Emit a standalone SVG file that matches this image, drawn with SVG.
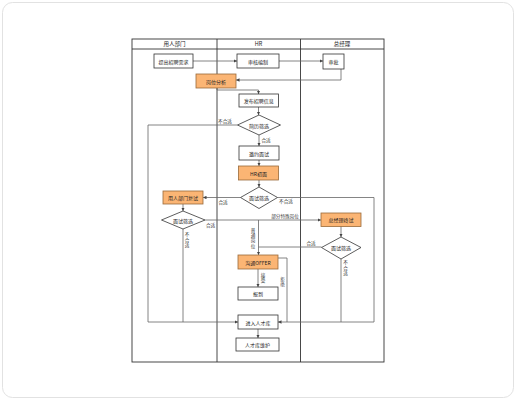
<svg xmlns="http://www.w3.org/2000/svg" width="516" height="400" viewBox="0 0 516 400">
<defs>
<marker id="ah" viewBox="0 0 6 6" refX="6" refY="3" markerWidth="3.5" markerHeight="3.5" orient="auto" markerUnits="userSpaceOnUse">
<path d="M0,0 L6,3 L0,6 Z" fill="#444"/>
</marker>
<style>
text{font-family:"Noto Sans CJK SC","Liberation Sans",sans-serif;fill:#222;}
.t{font-size:5px;text-anchor:middle;dominant-baseline:central;}
.h{font-size:5.5px;text-anchor:middle;dominant-baseline:central;}
.l{font-size:4.6px;text-anchor:middle;dominant-baseline:central;fill:#333;}
.box{fill:#fff;stroke:#333;stroke-width:0.8;}
.or{fill:#FBB574;stroke:#9a6a3a;stroke-width:0.8;}
.dia{fill:#fff;stroke:#333;stroke-width:0.8;}
.c{fill:none;stroke:#666;stroke-width:0.8;}
.ca{fill:none;stroke:#666;stroke-width:0.8;marker-end:url(#ah);}
.lane{fill:none;stroke:#333;stroke-width:0.9;}
</style>
</defs>
<rect x="0" y="0" width="516" height="400" fill="#fff"/>
<rect x="2.5" y="2.5" width="511" height="395" rx="10" fill="#fff" stroke="#e2e2e2" stroke-width="1"/>

<g id="lanes">
<rect class="lane" x="132" y="39" width="252" height="323"/>
<line class="lane" x1="132" y1="49" x2="384" y2="49"/>
<line class="lane" x1="217" y1="39" x2="217" y2="362"/>
<line class="lane" x1="300.5" y1="39" x2="300.5" y2="362"/>
<text class="h" x="174.5" y="44">用人部门</text>
<text class="h" x="258.5" y="44">HR</text>
<text class="h" x="342" y="44">总经理</text>
</g>

<g id="connectors">
<path class="ca" d="M193,61 H237"/>
<path class="ca" d="M279,61 H323"/>
<path class="ca" d="M341,69 V80 H236"/>
<path class="ca" d="M217,88 V90 H258.5 V94"/>
<path class="ca" d="M258.5,107 V115"/>
<path class="ca" d="M237.5,125 H148 V322 H238"/>
<path class="ca" d="M259,135 V146"/>
<path class="ca" d="M259,160 V166"/>
<path class="ca" d="M259,180 V187"/>
<path class="ca" d="M240.5,197.5 H203"/>
<path class="ca" d="M277.5,197.5 H374 V322 H278"/>
<path class="ca" d="M183,204 V211"/>
<path class="ca" d="M205,220 H321"/>
<path class="ca" d="M258.5,220 V255"/>
<path class="c" d="M183,229 V322"/>
<path class="ca" d="M341,226 V237"/>
<path class="c" d="M321.5,247 H258.5"/>
<path class="c" d="M341,259 V322"/>
<path class="ca" d="M258,269 V287"/>
<path class="c" d="M278,258 H287 V322"/>
<path class="ca" d="M258,329 V338"/>
<text class="l" x="225" y="120.5">不合适</text>
<text class="l" x="266" y="139.5">合适</text>
<text class="l" x="223" y="201.5">合适</text>
<text class="l" x="286" y="201">不合适</text>
<text class="l" x="210.5" y="224.5">合适</text>
<text class="l" x="285" y="215.5">部分特殊岗位</text>
<text class="l" x="311" y="242.5">合适</text>
<text class="l"><tspan x="253" y="230">普</tspan><tspan x="253" y="235.2">通</tspan><tspan x="253" y="240.4">岗</tspan><tspan x="253" y="245.6">位</tspan></text>
<text class="l"><tspan x="187" y="234">不</tspan><tspan x="187" y="239.5">合</tspan><tspan x="187" y="245">适</tspan></text>
<text class="l"><tspan x="345.5" y="262">不</tspan><tspan x="345.5" y="267.5">合</tspan><tspan x="345.5" y="273">适</tspan></text>
<text class="l"><tspan x="263" y="275">接</tspan><tspan x="263" y="280.2">受</tspan></text>
<text class="l"><tspan x="282.5" y="279">拒</tspan><tspan x="282.5" y="284.2">绝</tspan></text>
</g>

<g id="n1"><rect class="box" x="154" y="54" width="39" height="14"/><text class="t" x="173.5" y="61">提出招聘需求</text></g>
<g id="n2"><rect class="box" x="237" y="54" width="42" height="14"/><text class="t" x="258" y="61">审核编制</text></g>
<g id="n3"><rect class="box" x="323" y="54" width="21" height="15"/><text class="t" x="333.5" y="61.5">审批</text></g>
<g id="n4"><rect class="or" x="196" y="74" width="40" height="14"/><text class="t" x="216" y="81">岗位分析</text></g>
<g id="n5"><rect class="box" x="239" y="94" width="39.5" height="13"/><text class="t" x="258.75" y="100.5">发布招聘信息</text></g>
<g id="n6"><path class="dia" d="M259,115 L280.5,125 L259,135 L237.5,125 Z"/><text class="t" x="259" y="125">简历筛选</text></g>
<g id="n7"><rect class="box" x="239" y="146" width="40" height="14"/><text class="t" x="259" y="153">邀约面试</text></g>
<g id="n8"><rect class="or" x="238.5" y="166" width="40" height="14"/><text class="t" x="258.5" y="173">HR初面</text></g>
<g id="n9"><path class="dia" d="M259,187 L277.5,197.5 L259,208.5 L240.5,197.5 Z"/><text class="t" x="259" y="197.8">面试筛选</text></g>
<g id="n10"><rect class="or" x="163" y="191" width="40" height="13"/><text class="t" x="183" y="197.5">用人部门复试</text></g>
<g id="n11"><path class="dia" d="M183,211 L205,220 L183,229 L161.5,220 Z"/><text class="t" x="183" y="220">面试筛选</text></g>
<g id="n12"><rect class="or" x="321" y="213" width="40" height="13.5"/><text class="t" x="341" y="219.8">总经理终试</text></g>
<g id="n13"><path class="dia" d="M341,237 L361,247.5 L341,259 L321.5,247.5 Z"/><text class="t" x="341" y="247.8">面试筛选</text></g>
<g id="n14"><rect class="or" x="238" y="255" width="40" height="14"/><text class="t" x="258" y="262">沟通OFFER</text></g>
<g id="n15"><rect class="box" x="238" y="287" width="40" height="13"/><text class="t" x="258" y="293.5">报到</text></g>
<g id="n16"><rect class="box" x="238" y="315" width="40" height="14"/><text class="t" x="258" y="322">进入人才库</text></g>
<g id="n17"><rect class="box" x="236" y="338" width="43" height="13"/><text class="t" x="257.5" y="344.5">人才库维护</text></g>
</svg>
